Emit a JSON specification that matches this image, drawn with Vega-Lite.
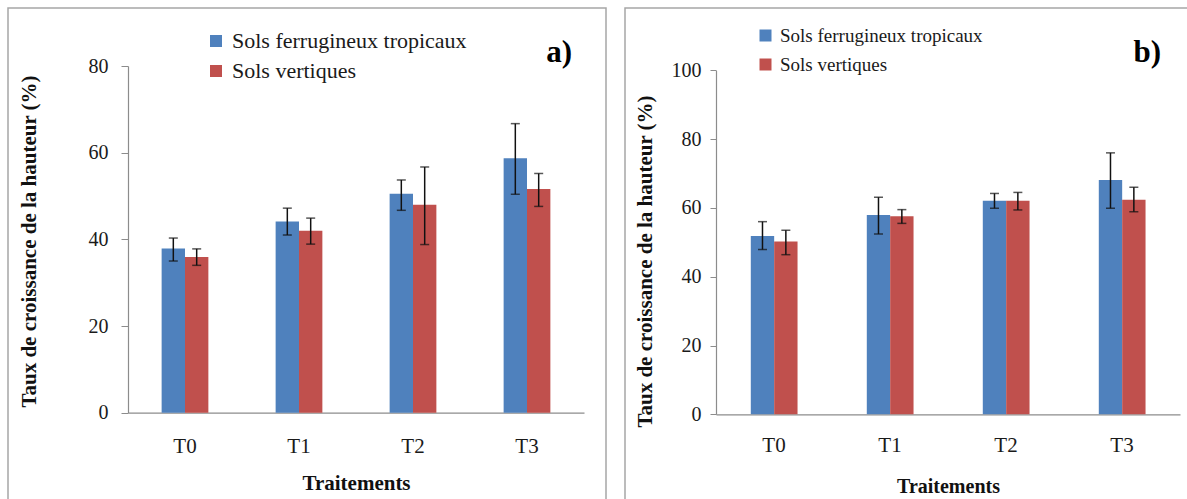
{
  "$schema": "https://vega.github.io/schema/vega-lite/v6.json",
  "padding": {"left": 7, "top": 7, "right": 0, "bottom": 0},
  "background": "white",
  "spacing": 17,
  "config": {
    "font": "Liberation Serif",
    "view": {"stroke": "#a6a6a6", "strokeWidth": 1.5},
    "axis": {"grid": false, "domainColor": "#8c8c8c", "tickColor": "#8c8c8c", "labelColor": "#1a1a1a", "titleColor": "#111", "labelFont": "Liberation Serif", "titleFont": "Liberation Serif", "titleFontWeight": "bold"},
    "legend": {"labelFont": "Liberation Serif", "labelColor": "#1a1a1a", "labelLimit": 500}
  },
  "datasets": {
    "a": [
      {"traitement": "T0", "sol": "Sols ferrugineux tropicaux", "taux": 37.9, "bas": 35.0, "haut": 40.3},
      {"traitement": "T0", "sol": "Sols vertiques", "taux": 35.9, "bas": 34.0, "haut": 37.8},
      {"traitement": "T1", "sol": "Sols ferrugineux tropicaux", "taux": 44.1, "bas": 41.0, "haut": 47.2},
      {"traitement": "T1", "sol": "Sols vertiques", "taux": 42.0, "bas": 38.9, "haut": 44.9},
      {"traitement": "T2", "sol": "Sols ferrugineux tropicaux", "taux": 50.5, "bas": 46.7, "haut": 53.7},
      {"traitement": "T2", "sol": "Sols vertiques", "taux": 48.0, "bas": 38.8, "haut": 56.7},
      {"traitement": "T3", "sol": "Sols ferrugineux tropicaux", "taux": 58.7, "bas": 50.4, "haut": 66.7},
      {"traitement": "T3", "sol": "Sols vertiques", "taux": 51.6, "bas": 47.6, "haut": 55.2}
    ],
    "b": [
      {"traitement": "T0", "sol": "Sols ferrugineux tropicaux", "taux": 51.8, "bas": 47.9, "haut": 56.0},
      {"traitement": "T0", "sol": "Sols vertiques", "taux": 50.2, "bas": 46.4, "haut": 53.5},
      {"traitement": "T1", "sol": "Sols ferrugineux tropicaux", "taux": 57.9, "bas": 52.4, "haut": 63.1},
      {"traitement": "T1", "sol": "Sols vertiques", "taux": 57.6, "bas": 55.5, "haut": 59.5},
      {"traitement": "T2", "sol": "Sols ferrugineux tropicaux", "taux": 62.1, "bas": 59.9, "haut": 64.2},
      {"traitement": "T2", "sol": "Sols vertiques", "taux": 62.1, "bas": 59.4, "haut": 64.5},
      {"traitement": "T3", "sol": "Sols ferrugineux tropicaux", "taux": 68.1, "bas": 59.9, "haut": 76.0},
      {"traitement": "T3", "sol": "Sols vertiques", "taux": 62.4, "bas": 58.9, "haut": 66.0}
    ]
  },
  "resolve": {"scale": {"color": "independent", "x": "independent", "y": "independent"}, "legend": {"color": "independent"}},
  "hconcat": [
    {
      "width": 598,
      "height": 540,
      "data": {"name": "a"},
      "title": {"text": "a)", "anchor": "end", "frame": "group", "orient": "top", "offset": -61, "dx": -34, "fontSize": 31, "fontWeight": "bold", "font": "Liberation Serif", "color": "#000"},
      "encoding": {
        "x": {"field": "traitement", "type": "nominal", "sort": ["T0", "T1", "T2", "T3"],
          "scale": {"range": [120, 576], "paddingInner": 0.59, "paddingOuter": 0.295},
          "axis": {"orient": "bottom", "offset": -135.3, "title": "Traitements", "labelAngle": 0, "ticks": false, "labelFont": "Liberation Serif", "titleFont": "Liberation Serif", "labelFontSize": 21, "titleFontSize": 21, "labelPadding": 23, "titlePadding": 16, "domainWidth": 1.2}},
        "xOffset": {"field": "sol", "type": "nominal", "sort": ["Sols ferrugineux tropicaux", "Sols vertiques"]}
      },
      "layer": [
        {
          "mark": {"type": "bar"},
          "encoding": {
            "y": {"field": "taux", "type": "quantitative",
              "scale": {"domain": [0, 80], "nice": false, "range": [404.7, 58]},
              "axis": {"values": [0, 20, 40, 60, 80], "title": "Taux de croissance de la hauteur (%)", "offset": -120, "labelFont": "Liberation Serif", "titleFont": "Liberation Serif", "labelFontSize": 20, "titleFontSize": 21, "tickSize": 7, "labelPadding": 13, "titlePadding": 49, "titleY": 233, "domainWidth": 1.2}},
            "color": {"field": "sol", "type": "nominal",
              "scale": {"domain": ["Sols ferrugineux tropicaux", "Sols vertiques"], "range": ["#4f81bd", "#c0504d"]},
              "legend": {"orient": "none", "legendX": 197, "legendY": 22, "title": null, "symbolType": "square", "symbolSize": 144, "symbolStrokeWidth": 0, "labelFont": "Liberation Serif", "labelFontSize": 22, "labelLimit": 500, "rowPadding": 8, "labelOffset": 5}}
          }
        },
        {
          "mark": {"type": "rule", "color": "#111", "strokeWidth": 1.5},
          "encoding": {"y": {"field": "bas", "type": "quantitative"}, "y2": {"field": "haut"}}
        },
        {
          "mark": {"type": "tick", "orient": "horizontal", "color": "#111", "size": 9, "thickness": 1.5},
          "encoding": {"y": {"field": "bas", "type": "quantitative"}}
        },
        {
          "mark": {"type": "tick", "orient": "horizontal", "color": "#111", "size": 9, "thickness": 1.5},
          "encoding": {"y": {"field": "haut", "type": "quantitative"}}
        }
      ]
    },
    {
      "width": 564,
      "height": 540,
      "data": {"name": "b"},
      "title": {"text": "b)", "anchor": "end", "frame": "group", "orient": "top", "offset": -61, "dx": -28, "fontSize": 31, "fontWeight": "bold", "font": "Liberation Serif", "color": "#000"},
      "encoding": {
        "x": {"field": "traitement", "type": "nominal", "sort": ["T0", "T1", "T2", "T3"],
          "scale": {"range": [91, 555], "paddingInner": 0.6, "paddingOuter": 0.3},
          "axis": {"orient": "bottom", "offset": -133.7, "title": "Traitements", "labelAngle": 0, "ticks": false, "labelFont": "Liberation Serif", "titleFont": "Liberation Serif", "labelFontSize": 21, "titleFontSize": 20, "labelPadding": 20, "titlePadding": 21, "domainWidth": 1.2}},
        "xOffset": {"field": "sol", "type": "nominal", "sort": ["Sols ferrugineux tropicaux", "Sols vertiques"]}
      },
      "layer": [
        {
          "mark": {"type": "bar"},
          "encoding": {
            "y": {"field": "taux", "type": "quantitative",
              "scale": {"domain": [0, 100], "nice": false, "range": [406.3, 62.3]},
              "axis": {"values": [0, 20, 40, 60, 80, 100], "title": "Taux de croissance de la hauteur (%)", "offset": -91, "labelFont": "Liberation Serif", "titleFont": "Liberation Serif", "labelFontSize": 20, "titleFontSize": 21, "tickSize": 6, "labelPadding": 9, "titlePadding": 16, "titleY": 253, "domainWidth": 1.2}},
            "color": {"field": "sol", "type": "nominal",
              "scale": {"domain": ["Sols ferrugineux tropicaux", "Sols vertiques"], "range": ["#4f81bd", "#c0504d"]},
              "legend": {"orient": "none", "legendX": 131, "legendY": 18, "title": null, "symbolType": "square", "symbolSize": 144, "symbolStrokeWidth": 0, "labelFont": "Liberation Serif", "labelFontSize": 19, "labelLimit": 500, "rowPadding": 9, "labelOffset": 5}}
          }
        },
        {
          "mark": {"type": "rule", "color": "#111", "strokeWidth": 1.5},
          "encoding": {"y": {"field": "bas", "type": "quantitative"}, "y2": {"field": "haut"}}
        },
        {
          "mark": {"type": "tick", "orient": "horizontal", "color": "#111", "size": 9, "thickness": 1.5},
          "encoding": {"y": {"field": "bas", "type": "quantitative"}}
        },
        {
          "mark": {"type": "tick", "orient": "horizontal", "color": "#111", "size": 9, "thickness": 1.5},
          "encoding": {"y": {"field": "haut", "type": "quantitative"}}
        }
      ]
    }
  ]
}
